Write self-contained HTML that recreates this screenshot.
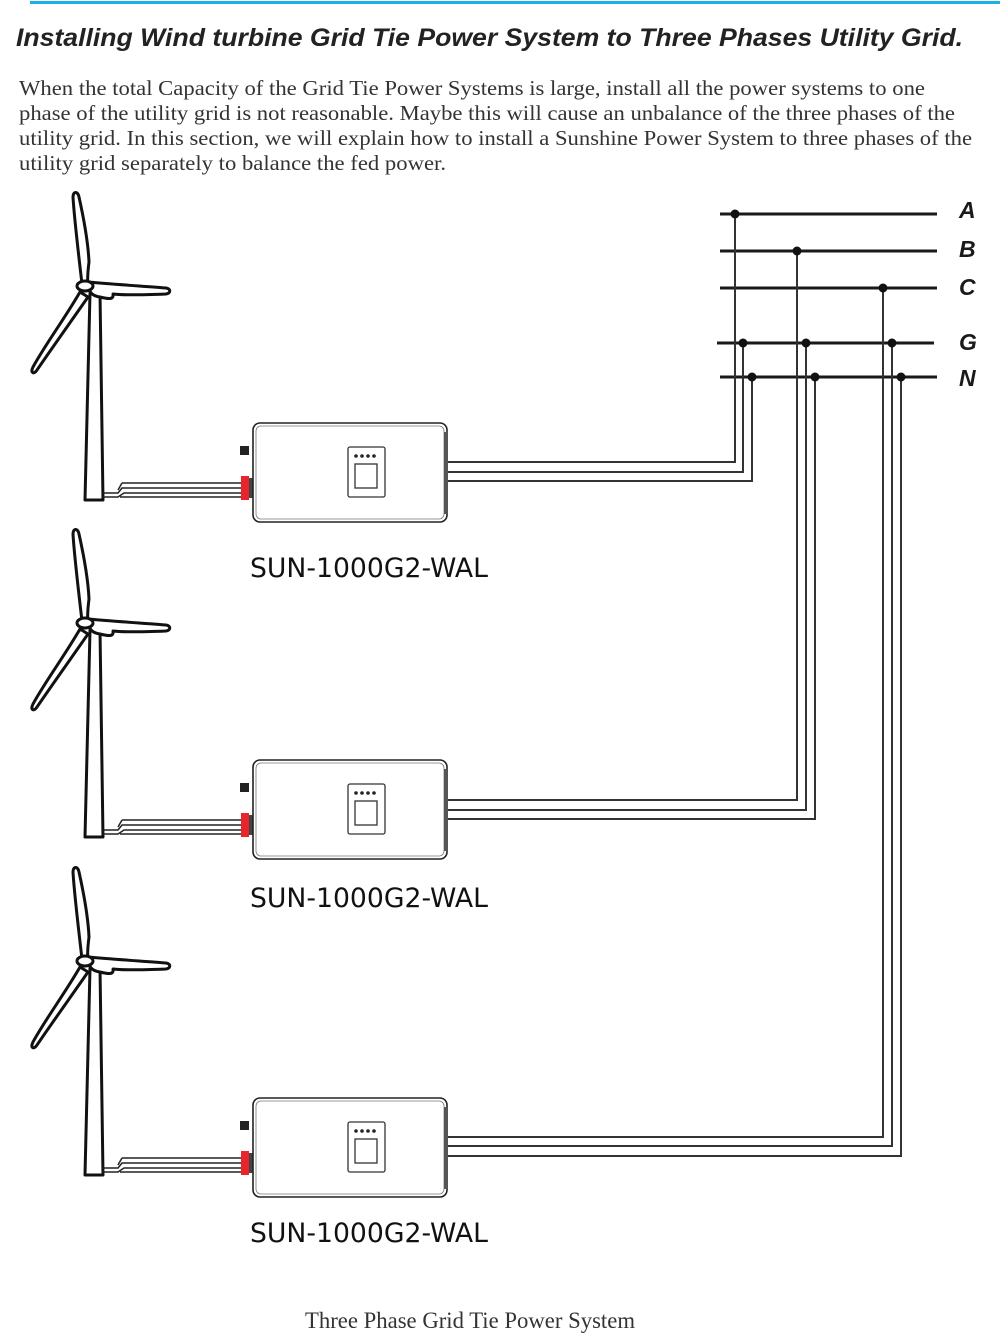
<!DOCTYPE html>
<html><head><meta charset="utf-8"><style>
html,body{margin:0;padding:0;background:#fff;}
svg{display:block;}
</style></head><body>
<svg width="1000" height="1337" viewBox="0 0 1000 1337" xmlns="http://www.w3.org/2000/svg">
<defs>
<g id="grp">
  <path d="M85,500 L90,293 L100,293 L103,500 Z" fill="#fff" stroke="#111" stroke-width="3" stroke-linejoin="round"/>
  <path d="M82,284 C78,250 74,215 73,197 C73,191 78,191 79,197 C83,215 88,240 89,262 C88,270 87,278 88,284 Z" fill="#fff" stroke="#111" stroke-width="3" stroke-linejoin="round"/>
  <path d="M80,292 C65,318 45,345 33,367 C30,373 34,375 37,370 C52,348 72,320 88,297 Z" fill="#fff" stroke="#111" stroke-width="3" stroke-linejoin="round"/>
  <path d="M88,282 C110,284 140,286 166,288 C171,289 171,293 166,294 C140,295 120,295 113,294 C114,300 108,299 100,297 C92,296 88,292 88,282 Z" fill="#fff" stroke="#111" stroke-width="3" stroke-linejoin="round"/>
  <ellipse cx="85" cy="286" rx="8" ry="5" fill="#fff" stroke="#111" stroke-width="3"/>
  <path d="M103,493 L118,493 L122,488 L243,488" fill="none" stroke="#222" stroke-width="1.5"/>
  <path d="M103,497 L118,497 L124,493 L243,493 M120,497 L243,497" fill="none" stroke="#222" stroke-width="1.5"/>
  <path d="M122,483 L243,483 M122,483 L118,490" fill="none" stroke="#222" stroke-width="1.5"/>
  <rect x="240" y="446" width="9" height="9" fill="#222"/>
  <rect x="241" y="476" width="8" height="24" fill="#e8252b"/>
  <rect x="249" y="478" width="4" height="20" fill="#444"/>
  <rect x="253" y="423" width="194" height="99" rx="7" fill="#fff" stroke="#222" stroke-width="1.6"/>
  <rect x="256" y="426" width="188" height="93" rx="5" fill="none" stroke="#777" stroke-width="0.8"/>
  <rect x="444" y="432" width="4" height="82" fill="#555"/>
  <rect x="348" y="447" width="37" height="50" rx="2" fill="#fff" stroke="#333" stroke-width="1.3"/>
  <rect x="355" y="464" width="22" height="24" fill="#fff" stroke="#333" stroke-width="1.3"/>
  <circle cx="356" cy="456" r="1.8" fill="#222"/><circle cx="362" cy="456" r="1.8" fill="#222"/>
  <circle cx="368" cy="456" r="1.8" fill="#222"/><circle cx="374" cy="456" r="1.8" fill="#222"/>
</g>
</defs>
<rect x="30" y="1" width="970" height="3" fill="#1ab0e4"/>
<text x="16" y="46" font-family="'Liberation Sans',sans-serif" font-size="25" font-weight="bold" font-style="italic" fill="#222" textLength="947" lengthAdjust="spacingAndGlyphs">Installing Wind turbine Grid Tie Power System to Three Phases Utility Grid.</text>
<g font-family="'Liberation Serif',serif" font-size="21.5" fill="#333" lengthAdjust="spacingAndGlyphs">
<text x="19" y="95" textLength="906" lengthAdjust="spacingAndGlyphs">When the total Capacity of the Grid Tie Power Systems is large, install all the power systems to one</text>
<text x="19" y="120" textLength="936" lengthAdjust="spacingAndGlyphs">phase of the utility grid is not reasonable. Maybe this will cause an unbalance of the three phases of the</text>
<text x="19" y="145" textLength="953" lengthAdjust="spacingAndGlyphs">utility grid. In this section, we will explain how to install  a Sunshine Power System to three phases of the</text>
<text x="19" y="170" textLength="427" lengthAdjust="spacingAndGlyphs">utility grid separately to balance the fed power.</text>
</g>

<use href="#grp"/>
<use href="#grp" transform="translate(0,337)"/>
<use href="#grp" transform="translate(0,675)"/>
<g font-family="'DejaVu Sans','Liberation Sans',sans-serif" font-size="27" fill="#111">
<text x="250" y="577" textLength="238" lengthAdjust="spacingAndGlyphs">SUN-1000G2-WAL</text>
<text x="250" y="907" textLength="238" lengthAdjust="spacingAndGlyphs">SUN-1000G2-WAL</text>
<text x="250" y="1242" textLength="238" lengthAdjust="spacingAndGlyphs">SUN-1000G2-WAL</text>
</g>

<g stroke="#1a1a1a" stroke-width="3">
<line x1="720" y1="214" x2="937" y2="214"/>
<line x1="720" y1="251" x2="937" y2="251"/>
<line x1="720" y1="288" x2="937" y2="288"/>
<line x1="717" y1="343" x2="934" y2="343"/>
<line x1="720" y1="377" x2="937" y2="377"/>
</g>
<g font-family="'Liberation Sans',sans-serif" font-size="23" font-weight="bold" font-style="italic" fill="#1a1a1a">
<text x="959" y="218">A</text><text x="959" y="257">B</text><text x="959" y="295">C</text>
<text x="959" y="350">G</text><text x="959" y="386">N</text>
</g>
<g fill="none" stroke="#333" stroke-width="2">
<path d="M448,462 L735,462 L735,214"/>
<path d="M448,472 L743,472 L743,343"/>
<path d="M448,481 L752,481 L752,377"/>
<path d="M448,800 L797,800 L797,251"/>
<path d="M448,810 L806,810 L806,343"/>
<path d="M448,819 L815,819 L815,377"/>
<path d="M448,1137 L883,1137 L883,288"/>
<path d="M448,1146 L892,1146 L892,343"/>
<path d="M448,1156 L901,1156 L901,377"/>
</g>
<g fill="#111">
<circle cx="735" cy="214" r="4.5"/><circle cx="797" cy="251" r="4.5"/><circle cx="883" cy="288" r="4.5"/>
<circle cx="743" cy="343" r="4.5"/><circle cx="806" cy="343" r="4.5"/><circle cx="892" cy="343" r="4.5"/>
<circle cx="752" cy="377" r="4.5"/><circle cx="815" cy="377" r="4.5"/><circle cx="901" cy="377" r="4.5"/>
</g>
<text x="305" y="1328" font-family="'Liberation Serif',serif" font-size="23" fill="#333" textLength="330" lengthAdjust="spacingAndGlyphs">Three Phase Grid Tie Power System</text>
</svg>
</body></html>
